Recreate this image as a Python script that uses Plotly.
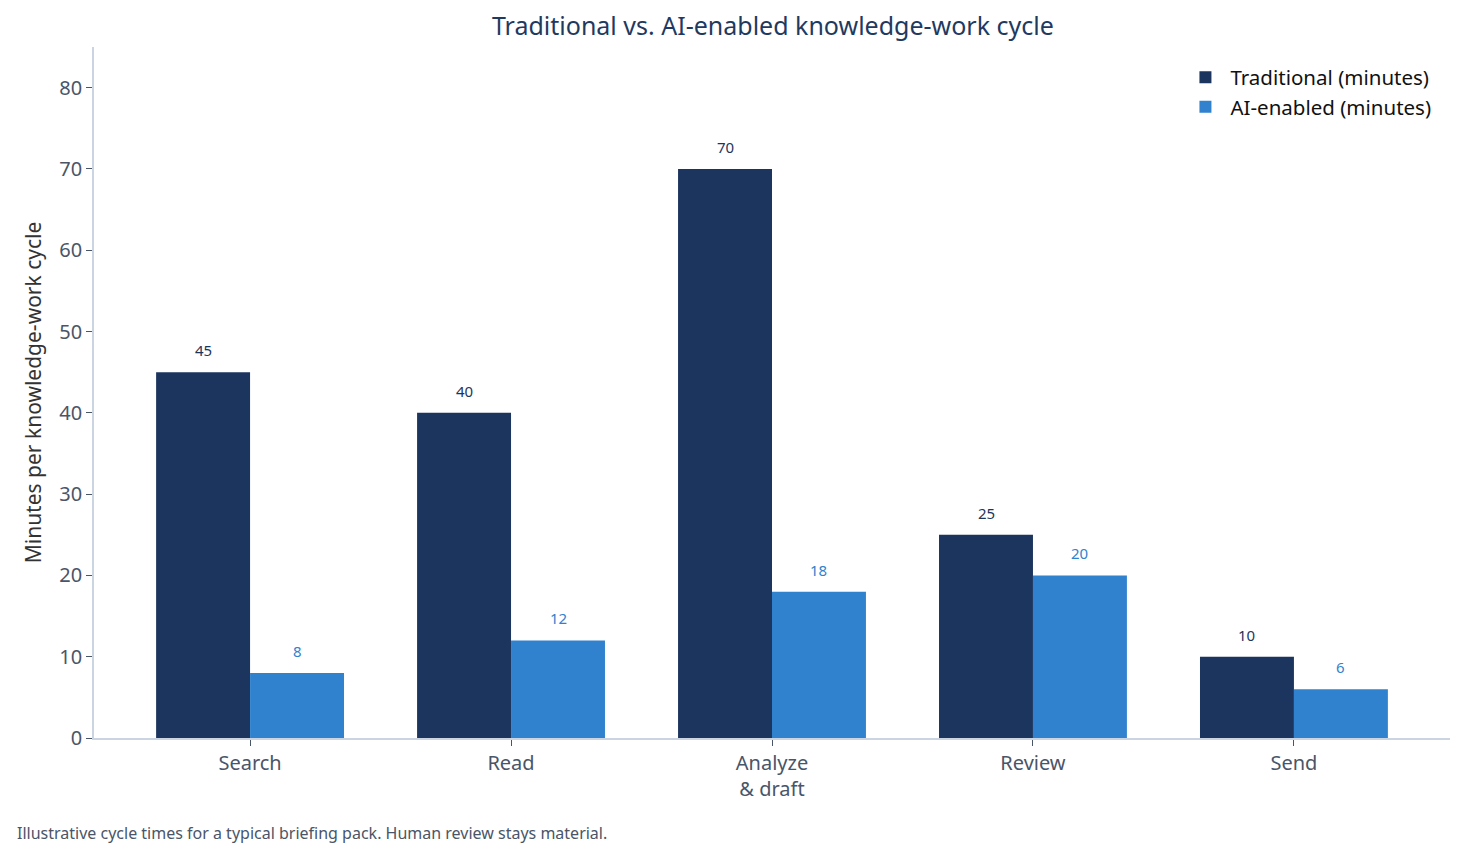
import plotly.graph_objects as go

# stages of the knowledge-work cycle
stages = ["Search", "Read", "Analyze<br>& draft", "Review", "Send"]
traditional_minutes = [45, 40, 70, 25, 10]
ai_minutes = [8, 12, 18, 20, 6]
y_ticks = [0, 10, 20, 30, 40, 50, 60, 70, 80]

NAVY = "#1c355e"
BLUE = "#3182ce"
AXIS = "#cbd5e1"
TICK_TEXT = "#4a5568"
FONT = "Noto Sans, Open Sans, sans-serif"

fig = go.Figure()
fig.add_trace(go.Bar(x=stages, y=traditional_minutes, name="Traditional (minutes)",
                     marker_color=NAVY, marker_line_width=0))
fig.add_trace(go.Bar(x=stages, y=ai_minutes, name="AI-enabled (minutes)",
                     marker_color=BLUE, marker_line_width=0))

# value labels sit a little above each bar
bar_w = (1 - 0.28) / 2
for i, (t, a) in enumerate(zip(traditional_minutes, ai_minutes)):
    for val, off, col in ((t, -bar_w / 2, NAVY), (a, bar_w / 2, BLUE)):
        fig.add_annotation(x=i + off, y=val, text=str(val), showarrow=False,
                           yanchor="bottom", yshift=10,
                           font=dict(size=15, color=col, family=FONT))

# the page adds an 8px body margin, so the figure is a bit smaller than the window
fig.update_layout(
    width=1457, height=851,
    margin=dict(l=86, r=15, t=39, b=121),
    paper_bgcolor="white", plot_bgcolor="white",
    barmode="group", bargap=0.28, bargroupgap=0,
    font=dict(family=FONT),
    title=dict(text="Traditional vs. AI-enabled knowledge-work cycle",
               x=0.525, xanchor="center", y=0.978, yanchor="middle",
               font=dict(size=25, color="#1f3a5f")),
    legend=dict(x=0.99, xanchor="right", y=0.985, yanchor="top",
                bgcolor="rgba(0,0,0,0)", font=dict(size=20.5, color="#111111"),
                itemwidth=40, tracegroupgap=6),
    showlegend=True,
)
fig.update_xaxes(range=[-0.598, 4.598], showline=True, linecolor=AXIS, linewidth=1.5,
                 ticks="outside", tickcolor=TICK_TEXT, ticklen=6,
                 tickfont=dict(size=20, color=TICK_TEXT), showgrid=False)
fig.update_yaxes(range=[0, 85], tickvals=y_ticks, showline=True, linecolor=AXIS,
                 linewidth=1.5, ticks="outside", tickcolor=TICK_TEXT, ticklen=6,
                 tickfont=dict(size=20, color=TICK_TEXT), showgrid=False, zeroline=False,
                 title=dict(text="Minutes per knowledge-work cycle",
                            font=dict(size=21, color="#333333"), standoff=12))

fig.add_annotation(text="Illustrative cycle times for a typical briefing pack. Human review stays material.",
                   xref="paper", yref="paper", x=-0.058, y=-0.137, xanchor="left",
                   yanchor="middle", showarrow=False,
                   font=dict(size=16, color=TICK_TEXT, family=FONT))

fig.write_html("out.html")
